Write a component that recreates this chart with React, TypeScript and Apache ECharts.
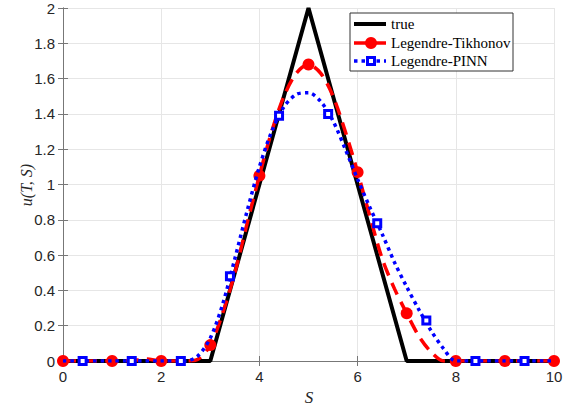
import React, { useEffect, useRef } from "react";
import * as echarts from "echarts";

const trueS = [0, 3, 5, 7, 10];
const trueU = [0, 0, 2, 0, 0];

const tikS = [0, 0.5, 1, 1.5, 1.7, 2, 2.5, 2.75, 3, 3.25, 3.5, 3.75, 4, 4.25, 4.5, 4.75, 5, 5.25, 5.5, 5.75, 6, 6.25, 6.5, 6.75, 7, 7.25, 7.5, 7.75, 8, 9, 10];
const tikU = [0, 0, 0, 0.005, 0.012, 0, 0, 0.01, 0.09, 0.27, 0.5, 0.78, 1.05, 1.3, 1.5, 1.63, 1.68, 1.63, 1.5, 1.3, 1.07, 0.82, 0.58, 0.41, 0.27, 0.14, 0.05, 0.0, 0, 0, 0];
const tikMarkS = [0, 1, 2, 3, 4, 5, 6, 7, 8, 9, 10];
const tikMarkU = [0, 0, 0, 0.09, 1.05, 1.68, 1.07, 0.27, 0, 0, 0];

const pinnS = [0, 1, 2, 2.5, 2.75, 3, 3.25, 3.5, 3.75, 4, 4.25, 4.5, 4.75, 5, 5.25, 5.5, 5.75, 6, 6.25, 6.5, 6.75, 7, 7.25, 7.5, 7.75, 8, 9, 10];
const pinnU = [0, 0, 0, 0, 0.03, 0.13, 0.32, 0.58, 0.85, 1.1, 1.3, 1.44, 1.51, 1.52, 1.47, 1.36, 1.2, 1.03, 0.87, 0.72, 0.56, 0.42, 0.29, 0.17, 0.07, 0, 0, 0];
const pinnMarkS = [0.4, 1.4, 2.4, 3.4, 4.4, 5.4, 6.4, 7.4, 8.4, 9.4];
const pinnMarkU = [0, 0, 0, 0.48, 1.39, 1.4, 0.78, 0.23, 0, 0];

const xTicks = [0, 2, 4, 6, 8, 10];
const yTicks = [0, 0.2, 0.4, 0.6, 0.8, 1, 1.2, 1.4, 1.6, 1.8, 2];

const legendNames = ["true", "Legendre-Tikhonov", "Legendre-PINN"];
const xName = "S";
const yName = "u(T, S)";

const zip = (a: number[], b: number[]) => a.map((v, i) => [v, b[i]]);

export default function App() {
  const ref = useRef<HTMLDivElement>(null);
  useEffect(() => {
    if (!ref.current) return;
    const chart = echarts.init(ref.current, null, { renderer: "svg" });
    const axisColor = "#777";
    const labelFont = { fontFamily: "Liberation Sans", fontSize: 15, color: "#262626" };
    const fmt = (v: number) => String(Math.round(v * 10) / 10);
    const lx = 350, ly = 13;
    const legFont = "15px 'Liberation Serif'";
    chart.setOption({
      animation: false,
      grid: { left: 63, right: 19, top: 8, bottom: 49, containLabel: false },
      xAxis: [
        {
          type: "value", min: xTicks[0], max: xTicks[xTicks.length - 1], interval: 2,
          axisLine: { show: true, lineStyle: { color: axisColor, width: 1 } },
          axisTick: { show: true, inside: true, length: 5, lineStyle: { color: axisColor } },
          axisLabel: { ...labelFont, margin: 8, formatter: fmt },
          splitLine: { show: true, lineStyle: { color: "#e6e6e6", width: 1 } },
        },
        {
          type: "value", position: "top", min: 0, max: 10, interval: 2,
          axisLine: { show: true, lineStyle: { color: axisColor, width: 1 } },
          axisTick: { show: true, inside: true, length: 5, lineStyle: { color: axisColor } },
          axisLabel: { show: false }, splitLine: { show: false },
        },
      ],
      yAxis: [
        {
          type: "value", min: yTicks[0], max: yTicks[yTicks.length - 1], interval: 0.2,
          axisLine: { show: true, lineStyle: { color: axisColor, width: 1 } },
          axisTick: { show: true, inside: true, length: 5, lineStyle: { color: axisColor } },
          axisLabel: { ...labelFont, margin: 8, formatter: fmt },
          splitLine: { show: true, lineStyle: { color: "#e6e6e6", width: 1 } },
        },
        {
          type: "value", position: "right", min: 0, max: 2, interval: 0.2,
          axisLine: { show: true, lineStyle: { color: axisColor, width: 1 } },
          axisTick: { show: true, inside: true, length: 5, lineStyle: { color: axisColor } },
          axisLabel: { show: false }, splitLine: { show: false },
        },
      ],
      series: [
        {
          name: legendNames[0], type: "line", data: zip(trueS, trueU), showSymbol: false, z: 3,
          lineStyle: { color: "#000", width: 4 }, xAxisIndex: 0, yAxisIndex: 0,
        },
        {
          name: legendNames[1], type: "line", data: zip(tikS, tikU), showSymbol: false, smooth: 0.3, z: 4,
          lineStyle: { color: "#ff0000", width: 3.5, type: [13, 8] },
        },
        {
          name: legendNames[1] + " markers", type: "scatter", data: zip(tikMarkS, tikMarkU), z: 4,
          symbol: "circle", symbolSize: 12, itemStyle: { color: "#ff0000", opacity: 1 },
        },
        {
          name: legendNames[2], type: "line", data: zip(pinnS, pinnU), showSymbol: false, smooth: 0.3, z: 5,
          lineStyle: { color: "#0000ff", width: 3.5, type: [3.5, 4] },
        },
        {
          name: legendNames[2] + " markers", type: "scatter", data: zip(pinnMarkS, pinnMarkU), z: 5,
          symbol: "rect", symbolSize: 7, itemStyle: { color: "#fff", borderColor: "#0000ff", borderWidth: 3, opacity: 1 },
        },
      ],
      graphic: [
        { type: "text", x: 26, y: 185, rotation: Math.PI / 2, style: { text: yName, font: "italic 16px 'Liberation Serif'", fill: "#262626", align: "center", verticalAlign: "middle" } },
        { type: "text", x: 309, y: 397, style: { text: xName, font: "italic 17px 'Liberation Serif'", fill: "#262626", align: "center", verticalAlign: "middle" } },
        { type: "rect", shape: { x: lx, y: ly, width: 163, height: 58 }, style: { fill: "#fff", stroke: "#333", lineWidth: 1 }, z: 100 },
        { type: "line", shape: { x1: lx + 4, y1: ly + 11, x2: lx + 36, y2: ly + 11 }, style: { stroke: "#000", lineWidth: 4 }, z: 101 },
        { type: "line", shape: { x1: lx + 4, y1: ly + 30, x2: lx + 36, y2: ly + 30 }, style: { stroke: "#ff0000", lineWidth: 3.5, lineDash: [13, 8] }, z: 101 },
        { type: "circle", shape: { cx: lx + 21, cy: ly + 30, r: 6 }, style: { fill: "#ff0000" }, z: 102 },
        { type: "line", shape: { x1: lx + 4, y1: ly + 48, x2: lx + 36, y2: ly + 48 }, style: { stroke: "#0000ff", lineWidth: 3.5, lineDash: [3.5, 4] }, z: 101 },
        { type: "rect", shape: { x: lx + 17.5, y: ly + 44.5, width: 7, height: 7 }, style: { fill: "#fff", stroke: "#0000ff", lineWidth: 3 }, z: 102 },
        { type: "text", x: lx + 41, y: ly + 11, style: { text: legendNames[0], font: legFont, fill: "#000", verticalAlign: "middle" }, z: 102 },
        { type: "text", x: lx + 41, y: ly + 30, style: { text: legendNames[1], font: legFont, fill: "#000", verticalAlign: "middle" }, z: 102 },
        { type: "text", x: lx + 41, y: ly + 48, style: { text: legendNames[2], font: legFont, fill: "#000", verticalAlign: "middle" }, z: 102 },
      ],
    });
    return () => chart.dispose();
  }, []);
  return <div ref={ref} style={{ width: 573, height: 410, position: "absolute", left: 0, top: 0 }} />;
}
